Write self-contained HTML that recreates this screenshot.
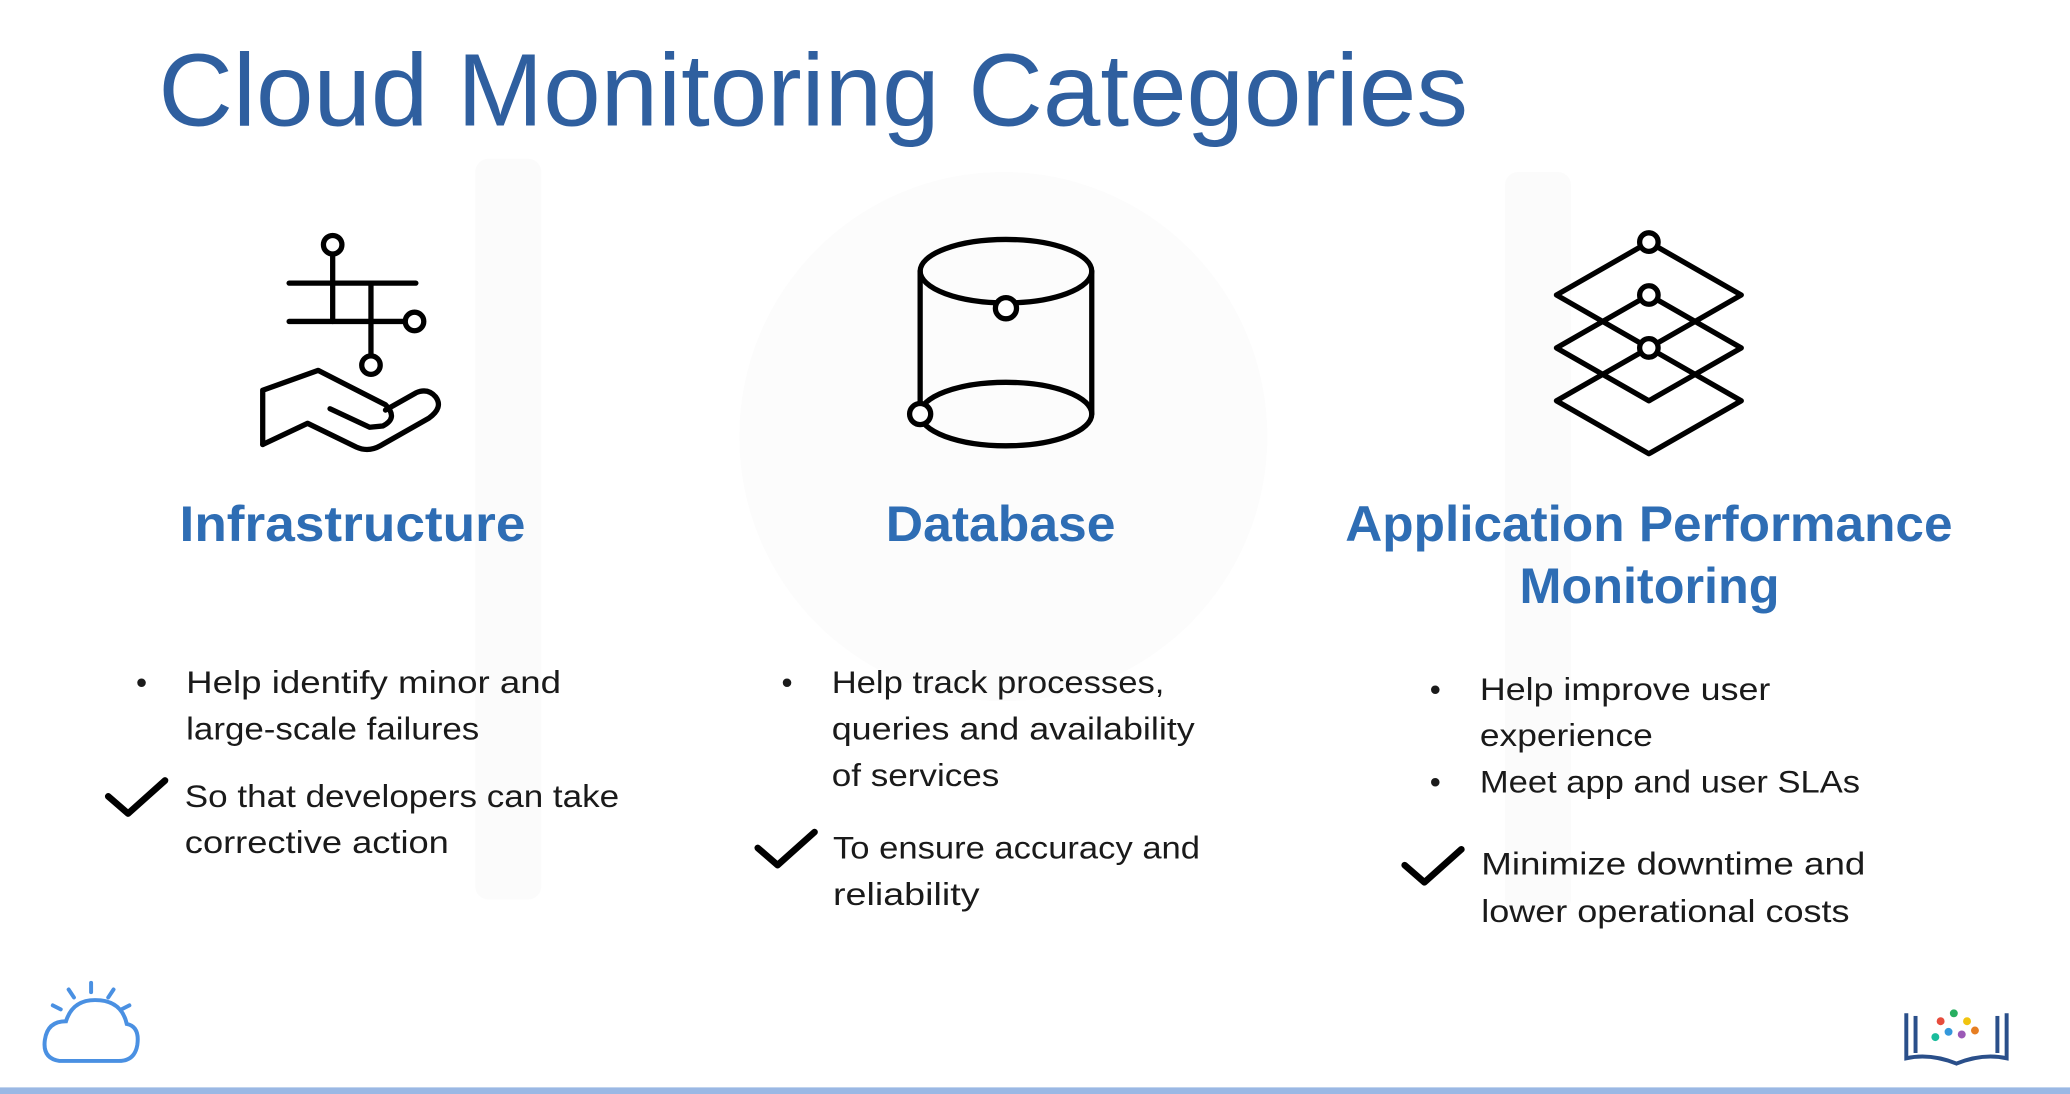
<!DOCTYPE html>
<html><head><meta charset="utf-8"><style>
html,body{margin:0;padding:0;background:#fff;width:2070px;height:1094px;overflow:hidden}
svg{display:block}
text{font-family:"Liberation Sans",sans-serif}
</style></head><body>
<svg width="2070" height="1094" viewBox="0 0 1568 827" preserveAspectRatio="none">
<rect width="1568" height="827" fill="#fff"/>
<g fill="#fbfbfb">
<rect x="360" y="120" width="50" height="560" rx="10"/>
<rect x="1140" y="130" width="50" height="560" rx="10"/>
<circle cx="760" cy="330" r="200" fill="#fcfcfc"/>
</g>
<text x="120" y="95" font-size="78" fill="#2f5f9f" textLength="992" lengthAdjust="spacingAndGlyphs">Cloud Monitoring Categories</text>

<g fill="none" stroke="#000" stroke-width="4" stroke-linecap="round" stroke-linejoin="round">
<line x1="219" y1="214" x2="315" y2="214"/>
<line x1="219" y1="243" x2="306" y2="243"/>
<line x1="252" y1="192" x2="252" y2="243"/>
<line x1="281" y1="214" x2="281" y2="268"/>
<circle cx="252" cy="185" r="7" fill="#fff"/>
<circle cx="314" cy="243" r="7" fill="#fff"/>
<circle cx="281" cy="276" r="7" fill="#fff"/>
<path d="M199,336 L199,295 L241,280 L292,306 Q302,316 290,322 L280,323 L250,309"/>
<path d="M199,336 L233,320 L270,338 Q279,342 288,337 L325,316 Q336,308 330,300 Q324,293 315,297 L292,310"/>
<ellipse cx="762" cy="205" rx="65" ry="24"/>
<ellipse cx="762" cy="313" rx="65" ry="24"/>
<line x1="697" y1="205" x2="697" y2="313"/>
<line x1="827" y1="205" x2="827" y2="313"/>
<circle cx="762" cy="233" r="8" fill="#fff"/>
<circle cx="697" cy="313" r="8" fill="#fff"/>
<path d="M1249,183 L1319,223 L1249,263 L1179,223 Z"/>
<path d="M1249,223 L1319,263 L1249,303 L1179,263 Z"/>
<path d="M1249,263 L1319,303 L1249,343 L1179,303 Z"/>
<circle cx="1249" cy="183" r="7" fill="#fff"/>
<circle cx="1249" cy="223" r="7" fill="#fff"/>
<circle cx="1249" cy="263" r="7" fill="#fff"/>
<polyline points="82,602 97,615 125,590" stroke-width="5"/>
<polyline points="574,641 589,654 617,629" stroke-width="5"/>
<polyline points="1064,654 1079,667 1107,642" stroke-width="5"/>
</g>

<g font-weight="bold" font-size="38" fill="#2e6db4" lengthAdjust="spacingAndGlyphs">
<text x="136" y="409" textLength="262" lengthAdjust="spacingAndGlyphs">Infrastructure</text>
<text x="671" y="409" textLength="174" lengthAdjust="spacingAndGlyphs">Database</text>
<text x="1019" y="409" textLength="460" lengthAdjust="spacingAndGlyphs">Application Performance</text>
<text x="1151" y="456" textLength="197" lengthAdjust="spacingAndGlyphs">Monitoring</text>
</g>

<g font-size="24" fill="#1a1a1a">
<text x="103" y="524">•</text>
<text x="141" y="524" textLength="284" lengthAdjust="spacingAndGlyphs">Help identify minor and</text>
<text x="141" y="559" textLength="222" lengthAdjust="spacingAndGlyphs">large-scale failures</text>
<text x="140" y="610" textLength="329" lengthAdjust="spacingAndGlyphs">So that developers can take</text>
<text x="140" y="645" textLength="200" lengthAdjust="spacingAndGlyphs">corrective action</text>

<text x="592" y="524">•</text>
<text x="630" y="524" textLength="252" lengthAdjust="spacingAndGlyphs">Help track processes,</text>
<text x="630" y="559" textLength="275" lengthAdjust="spacingAndGlyphs">queries and availability</text>
<text x="630" y="594" textLength="127" lengthAdjust="spacingAndGlyphs">of services</text>
<text x="631" y="649" textLength="278" lengthAdjust="spacingAndGlyphs">To ensure accuracy and</text>
<text x="631" y="684" textLength="111" lengthAdjust="spacingAndGlyphs">reliability</text>

<text x="1083" y="529">•</text>
<text x="1121" y="529" textLength="220" lengthAdjust="spacingAndGlyphs">Help improve user</text>
<text x="1121" y="564" textLength="131" lengthAdjust="spacingAndGlyphs">experience</text>
<text x="1083" y="599">•</text>
<text x="1121" y="599" textLength="288" lengthAdjust="spacingAndGlyphs">Meet app and user SLAs</text>
<text x="1122" y="661" textLength="291" lengthAdjust="spacingAndGlyphs">Minimize downtime and</text>
<text x="1122" y="697" textLength="279" lengthAdjust="spacingAndGlyphs">lower operational costs</text>
</g>

<g fill="none" stroke="#4a90e2" stroke-width="3" stroke-linecap="round">
<path d="M45,802 Q32,800 34,786 Q36,772 50,772 Q55,756 72,756 Q92,756 96,774 Q106,776 104,790 Q102,802 90,802 Z"/>
<line x1="69" y1="743" x2="69" y2="750"/>
<line x1="52" y1="748" x2="56" y2="754"/>
<line x1="86" y1="748" x2="82" y2="754"/>
<line x1="40" y1="760" x2="46" y2="763"/>
<line x1="98" y1="760" x2="92" y2="763"/>
</g>
<g fill="none" stroke="#2a4f8a" stroke-width="3">
<path d="M1444,766 L1444,800 Q1462,796 1482,804 Q1502,796 1520,800 L1520,766"/>
<line x1="1451" y1="768" x2="1451" y2="796"/>
<line x1="1513" y1="768" x2="1513" y2="796"/>
</g>
<g>
<circle cx="1470" cy="772" r="3" fill="#e74c3c"/><circle cx="1480" cy="766" r="3" fill="#27ae60"/>
<circle cx="1490" cy="772" r="3" fill="#f1c40f"/><circle cx="1476" cy="780" r="3" fill="#3498db"/>
<circle cx="1486" cy="782" r="3" fill="#9b59b6"/><circle cx="1496" cy="779" r="3" fill="#e67e22"/>
<circle cx="1466" cy="784" r="3" fill="#1abc9c"/>
</g>
<rect x="0" y="822" width="1568" height="5" fill="#9ab8e4"/>
</svg>
</body></html>
